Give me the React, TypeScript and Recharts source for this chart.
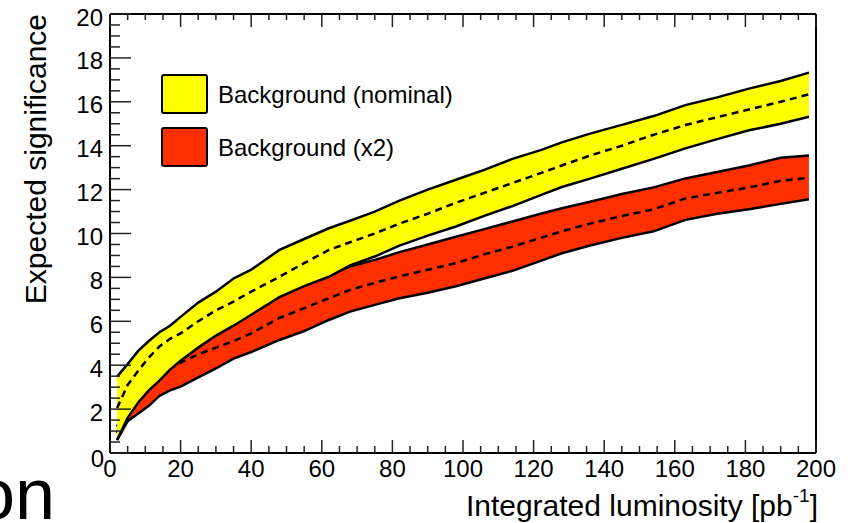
import { Area, ComposedChart, XAxis, YAxis } from "recharts";

const luminosity = [2, 5, 8, 11, 14, 17, 20, 25, 30, 35, 40, 48, 55, 62, 68, 75, 82, 90, 98, 106, 114, 122, 128, 136, 145, 154, 163, 172, 181, 190, 198];

const nominalHigh = [3.48, 4.05, 4.65, 5.1, 5.5, 5.8, 6.2, 6.85, 7.35, 7.95, 8.35, 9.25, 9.75, 10.24, 10.58, 11.0, 11.5, 12.0, 12.45, 12.9, 13.4, 13.8, 14.15, 14.55, 14.95, 15.35, 15.85, 16.2, 16.6, 16.95, 17.33];
const nominalMedian = [2.05, 3.1, 3.75, 4.35, 4.85, 5.2, 5.45, 6.0, 6.5, 6.9, 7.35, 8.03, 8.65, 9.25, 9.6, 10.0, 10.45, 10.9, 11.4, 11.85, 12.3, 12.75, 13.1, 13.55, 14.0, 14.5, 14.94, 15.3, 15.65, 16.0, 16.34];
const nominalLow = [0.59, 1.6, 2.3, 2.85, 3.3, 3.8, 4.2, 4.8, 5.35, 5.8, 6.3, 7.1, 7.6, 8.03, 8.55, 8.95, 9.45, 9.9, 10.32, 10.8, 11.25, 11.75, 12.12, 12.5, 12.95, 13.4, 13.88, 14.3, 14.7, 15.0, 15.32];

const doubledHigh = [1.2, 2.3, 2.95, 3.45, 3.9, 4.3, 4.65, 5.15, 5.65, 6.05, 6.55, 7.25, 7.75, 8.1, 8.5, 8.8, 9.15, 9.5, 9.85, 10.2, 10.55, 10.9, 11.15, 11.45, 11.8, 12.1, 12.51, 12.8, 13.1, 13.45, 13.55];
const doubledMedian = [0.9, 2.0, 2.65, 3.1, 3.5, 3.85, 4.12, 4.5, 4.8, 5.1, 5.45, 6.15, 6.6, 7.05, 7.43, 7.75, 8.05, 8.35, 8.65, 9.05, 9.4, 9.8, 10.1, 10.45, 10.8, 11.1, 11.6, 11.85, 12.1, 12.4, 12.54];
const doubledLow = [0.59, 1.45, 1.8, 2.15, 2.6, 2.85, 3.02, 3.45, 3.85, 4.3, 4.6, 5.15, 5.55, 6.06, 6.44, 6.75, 7.05, 7.3, 7.6, 7.95, 8.3, 8.75, 9.1, 9.45, 9.8, 10.1, 10.62, 10.9, 11.1, 11.35, 11.56];

const xMajorTicks = [0, 20, 40, 60, 80, 100, 120, 140, 160, 180, 200];
const yMajorTicks = [0, 2, 4, 6, 8, 10, 12, 14, 16, 18, 20];
const xTicks = Array.from({ length: 41 }, (_, i) => i * 5);
const yTicks = Array.from({ length: 41 }, (_, i) => i * 0.5);

const legendItems = [
  { label: "Background (nominal)", color: "#ffff00" },
  { label: "Background (x2)", color: "#ff3000" },
];

const rows = luminosity.map((lumi, i) => ({
  lumi,
  nominalBand: [nominalLow[i], nominalHigh[i]],
  nominalMedian: nominalMedian[i],
  doubledBand: [doubledLow[i], doubledHigh[i]],
  doubledMedian: doubledMedian[i],
}));

const FONT = "'Liberation Sans', Arial, Helvetica, sans-serif";
const TICK = "#222";

function isMajorX(v: number) {
  return xMajorTicks.includes(v);
}
function isMajorY(v: number) {
  return yMajorTicks.includes(Math.round(v * 100) / 100);
}

function BottomTick({ x, y, payload }: any) {
  const major = isMajorX(payload.value);
  return (
    <g>
      <line x1={x} x2={x} y1={y} y2={y - (major ? 13 : 7)} stroke={TICK} strokeWidth={1.5} />
      {major && (
        <text x={x} y={y + 24} textAnchor="middle" fontSize={24} fontFamily={FONT} fill="#000">
          {payload.value}
        </text>
      )}
    </g>
  );
}

function TopTick({ x, y, payload }: any) {
  const major = isMajorX(payload.value);
  return <line x1={x} x2={x} y1={y} y2={y + (major ? 13 : 6)} stroke={TICK} strokeWidth={1.5} />;
}

function LeftTick({ x, y, payload }: any) {
  const major = isMajorY(payload.value);
  const zero = payload.value === 0;
  return (
    <g>
      <line x1={x} x2={x + (major ? 21 : 10)} y1={y} y2={y} stroke={TICK} strokeWidth={1.5} />
      {major && (
        <text
          x={zero ? x - 6 : x - 7}
          y={zero ? y + 14 : y + 11.5}
          textAnchor="end"
          fontSize={24}
          fontFamily={FONT}
          fill="#000"
        >
          {payload.value}
        </text>
      )}
    </g>
  );
}

function RightTick({ x, y, payload }: any) {
  const major = isMajorY(payload.value);
  return <line x1={x} x2={x - (major ? 21 : 10)} y1={y} y2={y} stroke={TICK} strokeWidth={1.5} />;
}

export default function App() {
  return (
    <div style={{ position: "absolute", left: 0, top: 0, width: 852, height: 523, overflow: "hidden", background: "#fff" }}>
      <ComposedChart
        width={852}
        height={523}
        data={rows}
        margin={{ top: 10, right: 16, bottom: 20, left: 10 }}
      >
        <XAxis
          xAxisId="bottom"
          dataKey="lumi"
          type="number"
          domain={[0, 200]}
          ticks={xTicks}
          interval={0}
          height={50}
          tickSize={0}
          tickMargin={0}
          tickLine={false}
          axisLine={{ stroke: "#000", strokeWidth: 2 }}
          tick={<BottomTick />}
        />
        <XAxis
          xAxisId="top"
          orientation="top"
          dataKey="lumi"
          type="number"
          domain={[0, 200]}
          ticks={xTicks}
          interval={0}
          height={4}
          tickSize={0}
          tickMargin={0}
          tickLine={false}
          axisLine={{ stroke: "#000", strokeWidth: 2 }}
          tick={<TopTick />}
        />
        <YAxis
          yAxisId="left"
          type="number"
          domain={[0, 20]}
          ticks={yTicks}
          interval={0}
          width={100}
          tickSize={0}
          tickMargin={0}
          tickLine={false}
          axisLine={{ stroke: "#000", strokeWidth: 2 }}
          tick={<LeftTick />}
        />
        <YAxis
          yAxisId="right"
          orientation="right"
          type="number"
          domain={[0, 20]}
          ticks={yTicks}
          interval={0}
          width={20}
          tickSize={0}
          tickMargin={0}
          tickLine={false}
          axisLine={{ stroke: "#000", strokeWidth: 2 }}
          tick={<RightTick />}
        />
        <Area
          xAxisId="bottom"
          yAxisId="left"
          type="linear"
          dataKey="doubledBand"
          fill="#ff3000"
          fillOpacity={1}
          stroke="#000"
          strokeWidth={2.5}
          dot={false}
          activeDot={false}
          isAnimationActive={false}
        />
        <Area
          xAxisId="bottom"
          yAxisId="left"
          type="linear"
          dataKey="doubledMedian"
          fill="none"
          fillOpacity={0}
          stroke="#000"
          strokeWidth={2.5}
          strokeDasharray="7 5"
          dot={false}
          activeDot={false}
          isAnimationActive={false}
        />
        <Area
          xAxisId="bottom"
          yAxisId="left"
          type="linear"
          dataKey="nominalBand"
          fill="#ffff00"
          fillOpacity={1}
          stroke="#000"
          strokeWidth={2.5}
          dot={false}
          activeDot={false}
          isAnimationActive={false}
        />
        <Area
          xAxisId="bottom"
          yAxisId="left"
          type="linear"
          dataKey="nominalMedian"
          fill="none"
          fillOpacity={0}
          stroke="#000"
          strokeWidth={2.5}
          strokeDasharray="7 5"
          dot={false}
          activeDot={false}
          isAnimationActive={false}
        />
      </ComposedChart>
      <svg
        width={852}
        height={523}
        style={{ position: "absolute", left: 0, top: 0, pointerEvents: "none" }}
        fontFamily={FONT}
      >
        <text x={46} y={14} transform="rotate(-90, 46, 14)" textAnchor="end" fontSize={30} fill="#000">
          Expected significance
        </text>
        <text x={818} y={516} textAnchor="end" fontSize={30} fill="#000">
          Integrated luminosity [pb
          <tspan fontSize={19} dy={-14}>-1</tspan>
          <tspan dy={14}>]</tspan>
        </text>
        {legendItems.map((item, i) => (
          <g key={item.label}>
            <rect x={162} y={75 + i * 53} width={45} height={38} rx={2} fill={item.color} stroke="#000" strokeWidth={2} />
            <text x={218} y={103 + i * 53} fontSize={24} fill="#000">
              {item.label}
            </text>
          </g>
        ))}
        <text x={-25} y={519} fontSize={72} fill="#000">
          on
        </text>
      </svg>
    </div>
  );
}
